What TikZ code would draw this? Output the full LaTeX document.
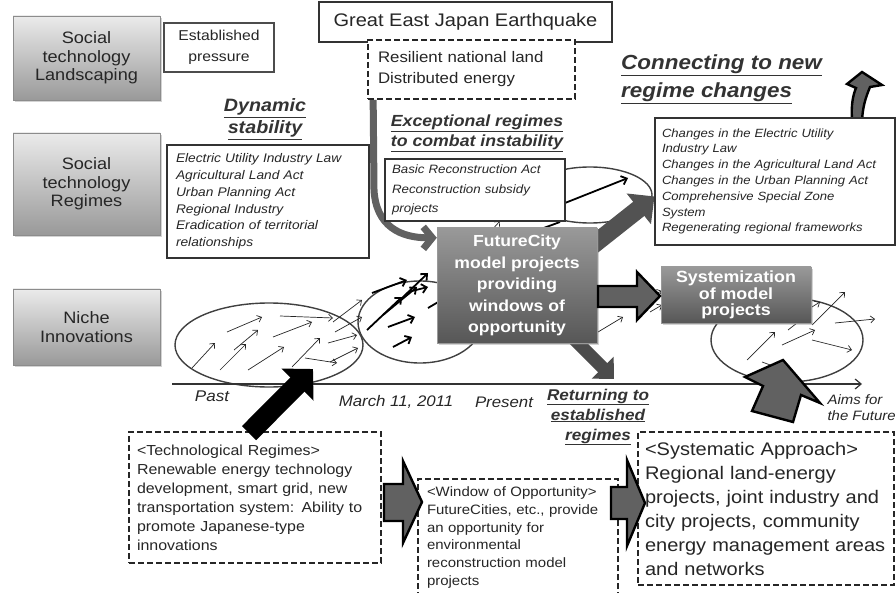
\documentclass[tikz,border=0pt]{standalone}
\usepackage{fontspec}
\setmainfont[FakeStretch=1.1]{Liberation Sans}
\usetikzlibrary{arrows.meta,shadows,calc}
\pgfdeclarelayer{back}
\pgfdeclarelayer{mid}
\pgfsetlayers{back,mid,main}
\newcommand{\fs}[2]{\fontsize{#1}{#2}\selectfont}
\begin{document}
\hyphenpenalty=10000
\exhyphenpenalty=10000
\begin{tikzpicture}[x=1pt,y=-1pt,
  levelbox/.style={draw=black!45, line width=0.6pt, top color=black!8, bottom color=black!40,
    drop shadow={opacity=0.35,shadow xshift=2pt,shadow yshift=-2pt},
    minimum width=147pt, align=center, font=\fs{16.5}{18.5}, inner sep=2pt, text=black!85},
  plainbox/.style={draw=black!80, line width=1.1pt, fill=white, align=left, inner sep=0pt, text=black!85},
  dashbox/.style={draw=black!85, line width=1.7pt, dash pattern=on 6pt off 3pt, fill=white, align=left, inner sep=0pt, text=black!85},
  darkbox/.style={draw=black!40, top color=black!40, bottom color=black!66,
    drop shadow={opacity=0.35,shadow xshift=2pt,shadow yshift=-2pt},
    text=white, align=center, font=\bfseries\fs{16}{21.5}, inner sep=0pt},
  headline/.style={text=black!80, inner sep=1pt},
  ell/.style={draw=black!75, line width=1.4pt},
  thinarr/.style={draw=black!85, line width=0.7pt, -{Straight Barb[length=4pt,width=7pt]}},
  boldarr/.style={draw=black, line width=1.8pt, -{Straight Barb[length=5pt,width=9pt]}},
  hollow/.style={draw=black, line width=2.4pt, fill=black!62, line join=miter},
]
\useasboundingbox (0,0) rectangle (896,593);

% ---------------- level boxes
\node[levelbox, minimum height=84pt] (land) at (86.5,58) {Social\\technology\\Landscaping};
\node[levelbox, minimum height=102pt] (reg) at (86.5,184) {Social\\technology\\Regimes};
\node[levelbox, minimum height=76pt] (niche) at (86.5,327) {Niche\\Innovations};

% ---------------- top boxes
\node[plainbox, line width=1.8pt, draw=black!70, minimum width=110pt, minimum height=49pt,
  align=center, font=\fs{14.3}{21}] (press) at (219,47.5) {Established\\pressure};
\node[plainbox, line width=1.5pt, minimum width=293pt, minimum height=40pt, align=center,
  font=\fs{18.2}{20}] (quake) at (465.5,22) {Great East Japan Earthquake};
\node[dashbox, minimum width=207pt, minimum height=59pt, text width=187pt, inner xsep=10pt,
  font=\fs{15.3}{21}] (resil) at (471.5,69.5) {Resilient national land\\Distributed energy};

\node[headline, font=\bfseries\itshape\fs{17.9}{22}, align=center] (dyn) at (265,119)
  {\underline{Dynamic}\\\underline{stability}};
\node[plainbox, minimum width=202pt, minimum height=113pt, text width=184pt, inner xsep=9pt,
  font=\itshape\fs{12.5}{16.8}] (regl) at (268,201.5)
  {Electric Utility Industry Law\\Agricultural Land Act\\Urban Planning Act\\Regional Industry\\Eradication of territorial\\relationships};

\node[headline, font=\bfseries\itshape\fs{16.1}{20}, align=center] (exc) at (477,133)
  {\underline{Exceptional regimes}\\\underline{to combat instability}};
\node[plainbox, minimum width=180pt, minimum height=62pt, text width=166pt, inner xsep=7pt,
  font=\itshape\fs{12.1}{19.5}] (basic) at (475,190)
  {Basic Reconstruction Act\\Reconstruction subsidy\\projects};

\node[plainbox, minimum width=240pt, minimum height=127pt, text width=226pt, inner xsep=7pt,
  font=\itshape\fs{11.9}{15.8}] (chg) at (775,181.5)
  {Changes in the Electric Utility\\Industry Law\\Changes in the Agricultural Land Act\\Changes in the Urban Planning Act\\Comprehensive Special Zone\\System\\Regenerating regional frameworks};
\node[headline, font=\bfseries\itshape\fs{20.4}{28}, align=left, anchor=west] (conn) at (620,79)
  {\underline{Connecting to new}\\\underline{regime changes}};

\node[darkbox, minimum width=160pt, minimum height=115pt] (fc) at (517,285.5)
  {FutureCity\\model projects\\providing\\windows of\\opportunity};
\node[darkbox, minimum width=150pt, minimum height=56pt, font=\bfseries\fs{16.2}{16.5}] (sys) at (736,295)
  {Systemization\\of model\\projects};

% ---------------- bottom boxes
\node[dashbox, minimum width=252pt, minimum height=131pt, text width=236pt, inner xsep=8pt,
  font=\fs{14.5}{19}] (tech) at (255,497.5)
  {<Technological Regimes>\\Renewable energy technology\\development, smart grid, new\\transportation system: Ability to\\promote Japanese-type\\innovations};
\node[dashbox, minimum width=200pt, minimum height=117pt, text width=182pt, inner xsep=9pt,
  font=\fs{13.6}{17.8}] (win) at (518,537.5)
  {<Window of Opportunity>\\FutureCities, etc., provide\\an opportunity for\\environmental\\reconstruction model\\projects};
\node[dashbox, minimum width=256pt, minimum height=153pt, text width=242pt, inner xsep=7pt,
  font=\fs{18.2}{24}] (sysa) at (766,508.5)
  {<Systematic Approach>\\Regional land-energy\\projects, joint industry and\\city projects, community\\energy management areas\\and networks};

% ---------------- timeline labels
\node[font=\itshape\fs{15.5}{18}, text=black!85] (past) at (212,396) {Past};
\node[font=\itshape\fs{15.3}{18}, text=black!85] (mar) at (396,402) {March 11, 2011};
\node[font=\itshape\fs{15.3}{18}, text=black!85] (pres) at (504,402) {Present};
\node[headline, font=\bfseries\itshape\fs{15.6}{20}, align=center] (ret) at (598,417)
  {\underline{Returning to}\\\underline{established}\\\underline{regimes}};
\node[font=\itshape\fs{13.6}{16}, align=left, anchor=west, text=black!85] (aims) at (824,408)
  {Aims for\\the Future};

% ---------------- background: ellipses, small arrows, timeline
\begin{pgfonlayer}{back}
  \draw[ell] (269,345) ellipse [x radius=94, y radius=42];
  \draw[ell] (420,322) ellipse [x radius=62, y radius=41];
  \draw[ell] (787,340) ellipse [x radius=76, y radius=42];
  \draw[ell] (590,195) ellipse [x radius=62, y radius=28];
  \coordinate (t0) at (172,384);
  \coordinate (t1) at (862,384);
  \draw[draw=black!80, line width=1.2pt, -{Straight Barb[length=6pt,width=10pt]}] (t0) -- (t1);
  \foreach \a/\b/\c/\d in {192/368/215/343, 220/370/246/344, 227/332/262/317, 234/350/258/330,
      248/370/284/347, 280/316/333/318, 273/337/312/322, 292/367/320/338, 305/358/337/363,
      328/343/357/335, 330/362/358/348, 333/322/362/300, 335/332/362/317,
      593/335/623/317, 650/312/662/305, 652/295/662/291,
      747/360/775/332, 782/345/815/330, 812/325/845/292, 812/340/852/350, 835/323/875/319,
      807/310/820/302, 490/232/500/221}
    \draw[thinarr] (\a,\b) -- (\c,\d);
  \draw[draw=black!85, line width=0.7pt] (788,330) -- (797,323);
  \draw[draw=black!85, line width=0.7pt] (762,362) -- (773,366);
  \foreach \a/\b/\c/\d in {367/330/402/297, 383/315/417/287, 372/293/407/280, 400/300/428/273,
      388/327/415/317, 393/347/412/337, 408/292/428/287, 428/308/445/298, 565/203/628/178}
    \draw[boldarr] (\a,\b) -- (\c,\d);
  \draw[draw=black, line width=1.8pt] (530,233) -- (560,222);
\end{pgfonlayer}

% ---------------- grey connectors behind boxes
\begin{pgfonlayer}{mid}
  \draw[line width=7pt, draw=black!62, -{Straight Barb[length=9pt,width=22pt]}]
    ($(resil.south west)+(6,0)$) -- (374,190) .. controls (376,226) and (400,238) .. ([yshift=-10pt]fc.north west);
  \draw[line width=18pt, draw=black!68, -{Triangle[length=20pt,width=38pt]}]
    ([xshift=-14pt,yshift=-25pt]fc.north east) -- ([yshift=-79pt]chg.north west);
  \coordinate (retpt) at (614,379);
  \draw[line width=13pt, draw=black!70, -{Triangle[length=16pt,width=30pt]}]
    ([xshift=-24pt,yshift=5pt]fc.south east) -- (retpt);
  \draw[hollow] (852,125) -- (852,119) .. controls (851,105) and (853,95) .. (856,88) -- (847,84)
    -- (862,72) -- (882,85) -- (870,87) .. controls (866,97) and (862,107) .. (862,125) -- cycle;
\end{pgfonlayer}

% ---------------- foreground block arrows
\coordinate (nichein) at (313,369);
\draw[line width=20pt, draw=black, -{Triangle[length=22pt,width=44pt]}]
  ([xshift=-6pt,yshift=-2pt]tech.north) -- (nichein);
\draw[hollow] (598,286) -- (637,286) -- (637,272) -- (660,296) -- (637,320) -- (637,307) -- (598,307) -- cycle;
\draw[hollow] (384,484) -- (403,484) -- (403,461) -- (422,502) -- (403,543) -- (403,521) -- (384,521) -- cycle;
\draw[hollow] (611,487) -- (627,487) -- (627,460) -- (645,503) -- (627,546) -- (627,519) -- (611,519) -- cycle;
\draw[hollow] (783,360) -- (745,377) -- (763,386) -- (752,411) -- (793,422) -- (801,395) -- (820,403) -- cycle;
\end{tikzpicture}
\end{document}
